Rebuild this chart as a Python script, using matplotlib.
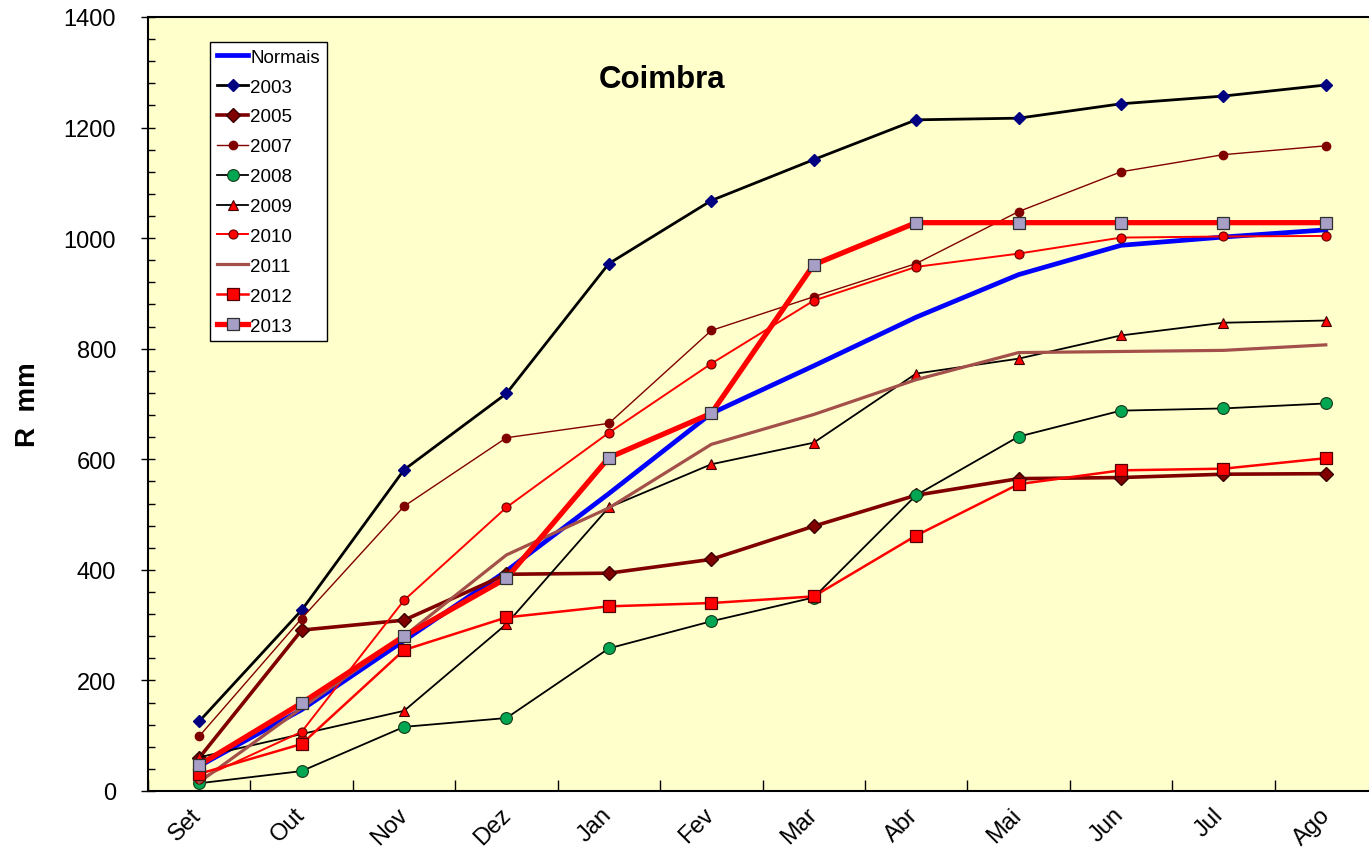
"""Cumulative rainfall, Coimbra: hydrological-year curves vs. the normal."""

import matplotlib

matplotlib.use("Agg")
import matplotlib.pyplot as plt
from matplotlib.ticker import MultipleLocator
from matplotlib.transforms import ScaledTranslation

plt.rcParams["font.family"] = ["Liberation Sans", "DejaVu Sans"]

MONTHS = ["Set", "Out", "Nov", "Dez", "Jan", "Fev", "Mar", "Abr", "Mai", "Jun", "Jul", "Ago"]

NORMAIS = [45, 147, 272, 398, 538, 683, 769, 857, 934, 987, 1002, 1015]
Y2003 = [126, 327, 581, 719, 954, 1068, 1142, 1214, 1217, 1243, 1257, 1277]
Y2005 = [60, 291, 309, 392, 394, 419, 479, 535, 565, 567, 573, 574]
Y2007 = [99, 312, 515, 639, 665, 833, 894, 954, 1048, 1120, 1151, 1167]
Y2008 = [14, 36, 116, 132, 258, 307, 350, 535, 641, 688, 692, 701]
Y2009 = [61, 103, 145, 302, 513, 591, 630, 755, 782, 824, 847, 851]
Y2010 = [22, 107, 345, 513, 648, 773, 887, 948, 972, 1001, 1003, 1004]
Y2011 = [16, 150, 280, 427, 512, 627, 681, 744, 793, 795, 797, 807]
Y2012 = [31, 85, 255, 314, 334, 340, 352, 462, 555, 580, 583, 602]
Y2013 = [47, 159, 280, 385, 603, 683, 952, 1028, 1028, 1028, 1028, 1028]

BG = "#ffffcc"

W, H = 1369, 854
fig = plt.figure(figsize=(W / 100, H / 100), dpi=100)
fig.patch.set_facecolor("white")
# plot area in pixels: x 148..1377 (runs a bit past the right edge), y 18..792
ax = fig.add_axes([148 / W, 1 - 792 / H, (1377 - 148) / W, (792 - 18) / H])
ax.set_facecolor(BG)

x = range(len(MONTHS))

ax.plot(x, NORMAIS, color="#0000ff", lw=3.4, label="Normais")
ax.plot(x, Y2003, color="black", lw=2.0, marker="D", ms=6.5,
        mfc="#000080", mec="#000080", label="2003")
ax.plot(x, Y2005, color="#800000", lw=2.6, marker="D", ms=7.5,
        mfc="#800000", mec="#3a0000", label="2005")
ax.plot(x, Y2007, color="#800000", lw=1.0, marker="o", ms=6,
        mfc="#800000", mec="#800000", label="2007")
ax.plot(x, Y2008, color="black", lw=1.3, marker="o", ms=8.5,
        mfc="#00a651", mec="#1a3a1a", mew=0.8, label="2008")
ax.plot(x, Y2009, color="black", lw=1.3, marker="^", ms=7.5,
        mfc="#ff0000", mec="#400000", mew=0.8, label="2009")
ax.plot(x, Y2010, color="#ff0000", lw=1.4, marker="o", ms=6.5,
        mfc="#ff0000", mec="#600000", mew=0.8, label="2010")
ax.plot(x, Y2011, color="#a34f4a", lw=2.3, label="2011")
ax.plot(x, Y2012, color="#ff0000", lw=1.8, marker="s", ms=8.5,
        mfc="#ff0000", mec="#500000", mew=0.9, label="2012")
ax.plot(x, Y2013, color="#ff0000", lw=3.8, marker="s", ms=9,
        mfc="#a79fc6", mec="#303030", mew=0.9, label="2013")

ax.set_xlim(-0.5, len(MONTHS) - 0.5)
ax.set_ylim(0, 1400)

# category ticks sit between months, like the Excel original
ax.set_xticks([i - 0.5 for i in range(len(MONTHS) + 1)])
ax.set_xticklabels([])
ax.set_xticks(list(x), minor=True)
ax.set_xticklabels(MONTHS, minor=True, rotation=45, ha="center", fontsize=17)
ax.tick_params(axis="x", which="major", direction="in", length=8, width=1)
ax.tick_params(axis="x", which="minor", length=0, pad=9)
shift = ScaledTranslation(-14 / 100, 0, fig.dpi_scale_trans)
for lab in ax.get_xticklabels(minor=True):
    lab.set_transform(lab.get_transform() + shift)

ax.yaxis.set_major_locator(MultipleLocator(200))
ax.yaxis.set_minor_locator(MultipleLocator(40))
ax.tick_params(axis="y", which="major", direction="inout", length=10, width=1,
               labelsize=17, pad=18)
ax.tick_params(axis="y", which="minor", direction="in", length=5, width=1)

for spine in ax.spines.values():
    spine.set_linewidth(1.5)
    spine.set_color("black")

ax.set_ylabel("R  mm", fontsize=20, fontweight="bold", labelpad=16)

fig.text(662 / W, 1 - 80 / H, "Coimbra", fontsize=22.5, fontweight="bold",
         ha="center", va="center")

leg = ax.legend(loc="upper left", bbox_to_anchor=(210 / W, 1 - 43 / H),
                bbox_transform=fig.transFigure, borderaxespad=0,
                fontsize=13.5, frameon=True, fancybox=False, framealpha=1,
                edgecolor="black", facecolor="white", handlelength=1.7,
                handletextpad=0.1, labelspacing=0.68, borderpad=0.35)
leg.get_frame().set_linewidth(1.0)

fig.savefig("out.png", dpi=100, facecolor=fig.get_facecolor())
